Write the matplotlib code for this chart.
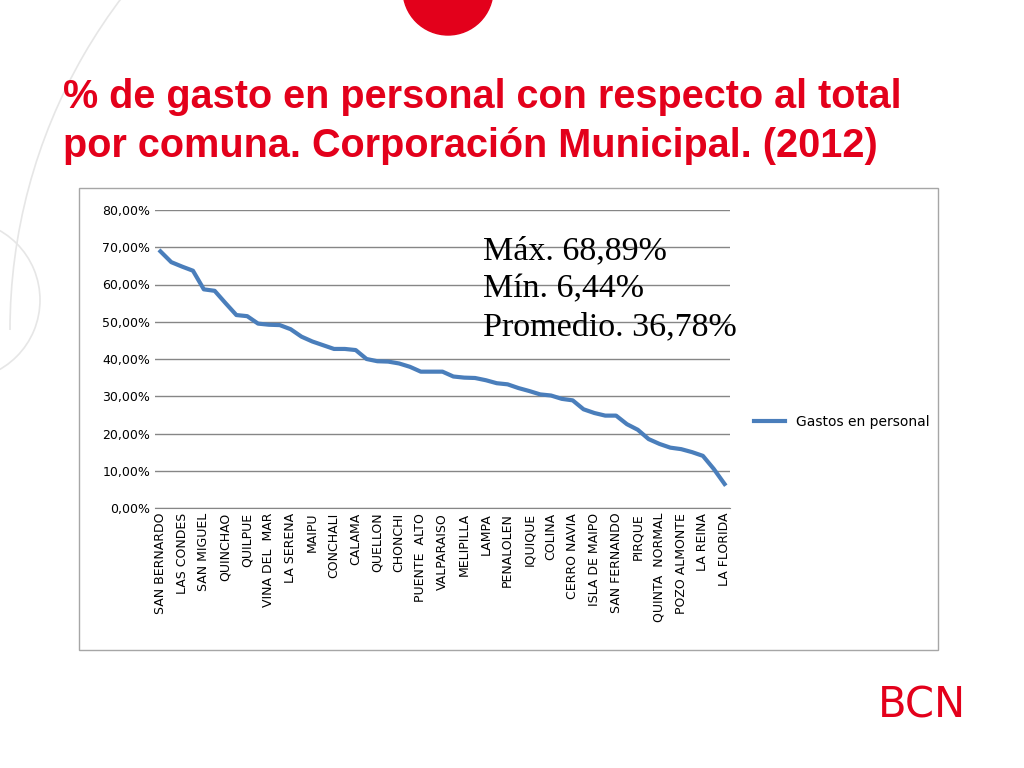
import matplotlib
matplotlib.use("Agg")
import matplotlib.pyplot as plt
from matplotlib.patches import Rectangle, Circle, Arc

# ── data ─────────────────────────────────────────────────────────────────────
shown_labels = [
    "SAN BERNARDO", "LAS CONDES", "SAN MIGUEL", "QUINCHAO", "QUILPUE",
    "VINA DEL  MAR", "LA SERENA", "MAIPU", "CONCHALI", "CALAMA", "QUELLON",
    "CHONCHI", "PUENTE  ALTO", "VALPARAISO", "MELIPILLA", "LAMPA",
    "PENALOLEN", "IQUIQUE", "COLINA", "CERRO NAVIA", "ISLA DE MAIPO",
    "SAN FERNANDO", "PIRQUE", "QUINTA  NORMAL", "POZO ALMONTE", "LA REINA",
    "LA FLORIDA",
]
gasto = [
    68.9, 66.0, 64.8, 63.7, 58.7, 58.3, 55.0, 51.8, 51.5, 49.5, 49.2, 49.1,
    48.0, 46.0, 44.7, 43.7, 42.7, 42.7, 42.4, 40.0, 39.4, 39.3, 38.8, 37.9,
    36.6, 36.6, 36.6, 35.3, 35.0, 34.9, 34.3, 33.5, 33.2, 32.2, 31.4, 30.5,
    30.2, 29.3, 28.9, 26.5, 25.5, 24.8, 24.8, 22.5, 21.0, 18.5, 17.2, 16.2,
    15.8, 15.0, 14.0, 10.5, 6.44,
]
y_ticks = [0, 10, 20, 30, 40, 50, 60, 70, 80]

RED = "#e3001b"
LINE = "#4a7ebb"

fig = plt.figure(figsize=(10.24, 7.68), dpi=100)
W, H = 1024, 768

# decorative background
bg = fig.add_axes([0, 0, 1, 1])
bg.set_xlim(0, W); bg.set_ylim(H, 0); bg.axis("off")
bg.add_patch(Arc((560, 330), 1100, 1100, theta1=180, theta2=300, color="#e6e6e6", lw=1.2))
bg.add_patch(Arc((-40, 300), 160, 160, color="#e6e6e6", lw=1.2))
bg.add_patch(Circle((448, -10), 45, color=RED))
bg.text(63, 97, "% de gasto en personal con respecto al total", color=RED,
        fontsize=28.5, fontweight="bold", va="center", fontfamily="Liberation Sans")
bg.text(63, 146, "por comuna. Corporación Municipal. (2012)", color=RED,
        fontsize=28.5, fontweight="bold", va="center", fontfamily="Liberation Sans")
bg.text(922, 705, "BCN", color=RED, fontsize=30, ha="center", va="center",
        fontfamily="DejaVu Sans")
bg.add_patch(Rectangle((79, 188), 859, 462, fill=False, ec="#a6a6a6", lw=1))

# chart
ax = fig.add_axes([155 / W, 1 - 508 / H, 575 / W, 298 / H])
x = list(range(len(gasto)))
ax.plot(x, gasto, color=LINE, lw=3, label="Gastos en personal")
ax.set_xlim(-0.5, len(gasto) - 0.5)
ax.set_ylim(0, 80)
ax.set_yticks(y_ticks)
ax.set_yticklabels([f"{v},00%" for v in y_ticks], fontsize=9)
ax.set_xticks(x[::2])
ax.set_xticklabels(shown_labels, rotation=90, fontsize=9)
ax.tick_params(length=0)
ax.grid(axis="y", color="#868686", lw=1)
ax.set_axisbelow(True)
for s in ("top", "right", "left"):
    ax.spines[s].set_visible(False)
ax.spines["bottom"].set_color("#868686")

ax.text(0.57, 0.915, "Máx. 68,89%\nMín. 6,44%\nPromedio. 36,78%",
        transform=ax.transAxes, fontsize=24.5, fontfamily="Liberation Serif",
        va="top", linespacing=1.32)
ax.legend(loc="center left", bbox_to_anchor=(1.02, 0.29), frameon=False,
          fontsize=10, handlelength=2.2)

fig.savefig("out.png", dpi=100)
